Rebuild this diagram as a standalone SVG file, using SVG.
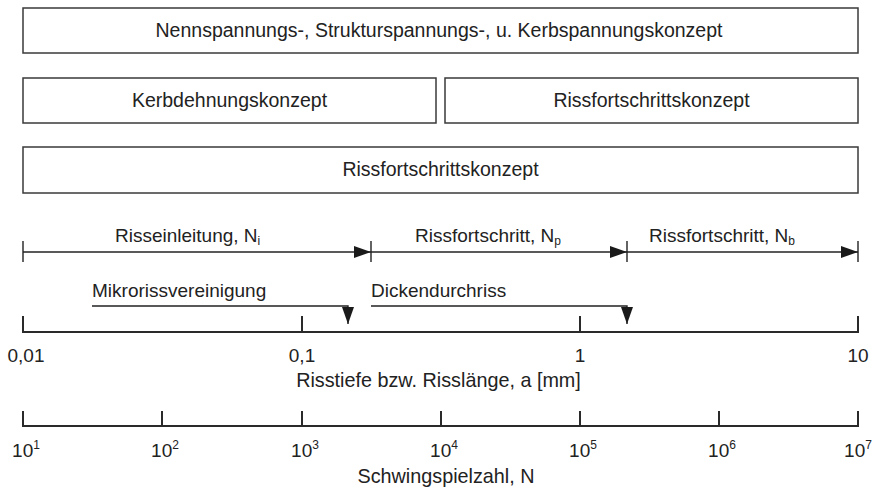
<svg xmlns="http://www.w3.org/2000/svg" width="877" height="490" viewBox="0 0 877 490">
<style>
.box{fill:#fff;stroke:#3a3a3a;stroke-width:1.5}
.t{font-family:"Liberation Sans",Arial,sans-serif;font-size:19px;fill:#222}
.b{font-size:19.5px}
.at{font-size:19.8px}
.c{text-anchor:middle}
.ln{stroke:#222;stroke-width:1.4;fill:none}
.ax{stroke:#2a2a2a;stroke-width:2;fill:none}
.sub{font-size:12px}
</style>
<defs>
<marker id="ah" markerUnits="userSpaceOnUse" markerWidth="18" markerHeight="12" refX="17" refY="6" orient="auto">
<path d="M0,0 L17,6 L0,12 Z" fill="#1a1a1a"/>
</marker>
</defs>
<rect width="877" height="490" fill="#fff"/>
<g id="box-nenn"><rect class="box" x="23" y="8" width="835" height="45"/><text class="t b c" x="439" y="37">Nennspannungs-, Strukturspannungs-, u. Kerbspannungskonzept</text></g>
<g id="box-kerb"><rect class="box" x="23" y="78" width="413" height="45"/><text class="t b c" x="229.5" y="107">Kerbdehnungskonzept</text></g>
<g id="box-riss1"><rect class="box" x="445" y="78" width="413" height="45"/><text class="t b c" x="651.5" y="107">Rissfortschrittskonzept</text></g>
<g id="box-riss2"><rect class="box" x="23" y="147" width="835" height="46"/><text class="t b c" x="440.5" y="176">Rissfortschrittskonzept</text></g>
<g id="connectors">
<line class="ln" x1="23" y1="241" x2="23" y2="262"/>
<line class="ln" x1="371" y1="241" x2="371" y2="262"/>
<line class="ln" x1="627" y1="241" x2="627" y2="262"/>
<line class="ln" x1="858" y1="241" x2="858" y2="262"/>
<line class="ln" x1="23" y1="252" x2="371" y2="252" marker-end="url(#ah)"/>
<line class="ln" x1="371" y1="252" x2="627" y2="252" marker-end="url(#ah)"/>
<line class="ln" x1="627" y1="252" x2="858" y2="252" marker-end="url(#ah)"/>
<path class="ln" d="M92,306 H348 V324" marker-end="url(#ah)"/>
<path class="ln" d="M371,306 H627 V324" marker-end="url(#ah)"/>
</g>
<g id="phase-labels">
<text class="t" x="115" y="242">Risseinleitung, N<tspan class="sub" dy="3">i</tspan></text>
<text class="t" x="415" y="242">Rissfortschritt, N<tspan class="sub" dy="3">p</tspan></text>
<text class="t" x="649" y="242">Rissfortschritt, N<tspan class="sub" dy="3">b</tspan></text>
<text class="t" x="92" y="297">Mikrorissvereinigung</text>
<text class="t" x="371" y="297">Dickendurchriss</text>
</g>
<g id="axis-a">
<path class="ax" d="M23,316 V332 H858 V316 M302,316 V332 M580,316 V332"/>
<text class="t c" x="26" y="362">0,01</text>
<text class="t c" x="302" y="362">0,1</text>
<text class="t c" x="580" y="362">1</text>
<text class="t c" x="858" y="362">10</text>
<text class="t at c" x="438.5" y="387">Risstiefe bzw. Risslänge, a [mm]</text>
</g>
<g id="axis-n">
<path class="ax" d="M23,411 V426 H858 V411 M162,411 V426 M302,411 V426 M441,411 V426 M580,411 V426 M719,411 V426"/>
<text class="t c" x="26" y="457">10<tspan class="sub" dy="-8">1</tspan></text>
<text class="t c" x="165" y="457">10<tspan class="sub" dy="-8">2</tspan></text>
<text class="t c" x="305" y="457">10<tspan class="sub" dy="-8">3</tspan></text>
<text class="t c" x="444" y="457">10<tspan class="sub" dy="-8">4</tspan></text>
<text class="t c" x="583" y="457">10<tspan class="sub" dy="-8">5</tspan></text>
<text class="t c" x="722" y="457">10<tspan class="sub" dy="-8">6</tspan></text>
<text class="t c" x="858" y="457">10<tspan class="sub" dy="-8">7</tspan></text>
<text class="t at c" x="446" y="483">Schwingspielzahl, N</text>
</g>
</svg>
